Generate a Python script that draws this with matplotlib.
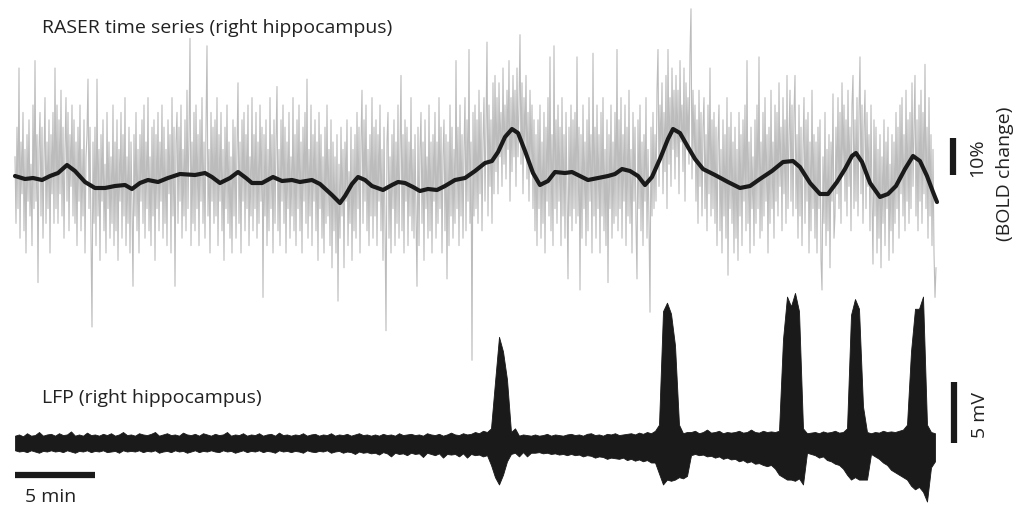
import matplotlib
matplotlib.use("Agg")
import matplotlib.pyplot as plt
import numpy as np

plt.rcParams['font.family'] = ['Open Sans', 'DejaVu Sans']

# raw RASER trace (% BOLD change), one sample every 0.0625 min
raser_step = 0.0625
raser_raw = [
    6, -12, 14, -8, 30, -16, 10, -4, 18, -14, 8, -20, 12, -6, 16, -10, 4, -18, 20, -8,
    32, -6, 12, -28, 8, 18, -10, 14, -16, 6, 22, -12, 10, -8, 16, -20, 12, -4, 18, -12,
    30, -8, 20, -12, 16, -4, 24, -10, 14, -16, 8, 22, -6, 18, -14, 12, -2, 20, -10, 16,
    -12, 10, -18, 14, -6, 20, -14, 8, -10, 16, -20, 6, 12, 27, -8, 14, -16, -40, 10, -12,
    14, -18, 27, -10, 8, -22, 12, -6, 16, -14, 4, -20, 18, -8, 10, -16, 6, -12, 20, -18,
    10, -14, 16, -22, 8, -6, 18, -16, 12, -10, 22, -18, 6, -12, 14, -20, 10, -8, -29, 12,
    -10, 18, -14, 8, -20, 12, -6, 16, -12, 20, -16, 10, -8, 22, -14, 6, -18, 14, -10, 16,
    -22, 12, -8, 18, -14, 10, -6, 20, -16, 14, -12, 8, -18, 16, -4, 12, -20, 22, -10, 14,
    -29, 10, 18, -12, 14, -6, 20, -16, 8, -10, 16, -14, 24, -8, 12, 38, -18, 10, -12, 18,
    -14, 20, -8, 12, -18, 16, -6, 22, -12, 10, -16, 14, 36, -10, 8, -20, 18, -6, 14, -12,
    16, -10, 22, -18, 12, -6, 18, -14, 8, -22, 14, -8, 20, -12, 10, -16, 6, -20, 16, -10,
    14, -16, 8, 26, -12, 10, -20, 16, -6, 18, -14, 12, -8, 20, -18, 6, -10, 22, -14, 12,
    -8, 18, -16, 10, -12, 20, -6, 14, -32, 12, -10, 16, -18, 8, -14, 22, -8, 12, -20, 16,
    -12, 10, 25, -14, 8, -18, 16, -6, 20, -12, 14, -20, 10, -8, 18, -16, 6, -10, 22, -14,
    12, -18, 16, -8, 20, -14, 10, -20, 14, -6, 18, -12, 27, -16, 8, -10, 20, -18, 12, -6,
    16, -14, 10, -22, 18, -8, 12, -16, 6, -20, 14, -12, 20, -10, 8, -18, 16, -24, 10, -14,
    6, -20, 12, -33, 4, -16, 14, -10, 8, -24, 10, -6, 16, -18, 2, -12, 14, -22, 8, -14,
    12, -16, 18, -8, 14, -20, 10, 24, -12, 16, -6, 20, -14, 8, -18, 12, -10, 22, -16, 14,
    -10, 16, -18, 12, -6, 20, -14, 8, -22, 14, -12, -41, 10, 18, -16, 6, -20, 12, -8, 16,
    -18, 10, -12, 20, -16, 8, 28, -14, 12, -20, 16, -6, 14, -18, 10, -10, 22, -14, 8, -16,
    12, -10, -29, 14, -18, 8, 18, -12, 10, -22, 16, -8, 6, -16, 20, -14, 10, -20, 12, -6,
    18, -16, 10, -12, 22, -8, 14, -20, 6, 16, -14, 12, -27, 10, -18, 20, -10, 14, -16, 8,
    -12, 32, -8, 14, -18, 20, -10, 12, -16, 8, 22, -14, 16, -6, 35, -12, 10, -49, 18, -10,
    20, -8, 16, -12, 24, -4, 18, -14, 10, 22, -6, 14, 37, -10, 20, -2, 16, -12, 26, -4,
    28, 2, 22, -4, 26, 6, 18, -2, 30, 4, 20, 0, 24, 8, 32, -6, 22, 2, 28, 6,
    24, -2, 30, 6, 20, 39, 4, 26, -4, 22, 8, 28, 0, 18, -6, 24, 2, 20, -8, 16,
    -14, 12, -18, 16, -8, 20, -16, 10, -12, 18, -20, 14, -6, 22, -10, 33, -14, 12, -18, 36,
    -8, 16, -12, 20, -6, 14, -18, 22, -10, 12, -16, 18, -4, -27, 14, -10, 20, -14, 16, -8,
    18, -12, 33, -10, 14, -30, 12, -16, 20, -8, 10, -18, 16, -14, 22, -6, 12, -20, 34, -10,
    14, -16, 20, -8, 12, -20, 18, -10, 22, -14, 8, -18, 16, -28, 12, -8, 20, -16, 10, -12,
    18, -10, 35, -14, 16, -8, 22, -16, 12, -6, 20, -18, 14, -10, 24, -12, 8, -20, 18, -6,
    14, -12, -27, 16, -8, 20, -14, 10, -18, 12, -6, 22, -16, 8, -12, -36, 14, -10, 18, -8,
    12, -6, 24, 35, -2, 20, 6, 26, -4, 18, 2, 28, -8, 35, 4, 22, -2, 30, 8, 24,
    0, 28, 6, 24, -4, 32, 10, 20, 2, 30, -6, 26, 8, 22, 4, 34, 46, 0, 24, 6,
    20, -6, 16, -12, 24, -2, 18, -10, 14, 22, -8, 12, -14, 20, -4, 30, -10, 16, -8, 18,
    -12, 14, -18, 10, 20, -14, 8, -20, 16, -10, 12, -16, 22, -26, 14, -8, 18, -12, 10, -20,
    14, -16, 8, -22, 18, -10, 12, -18, 16, -6, 20, -14, 32, -12, 10, -20, 14, -8, 6, -18,
    16, -12, 20, -8, 33, -16, 10, -14, 18, -10, 22, -6, 12, -20, 14, -12, 24, -8, 10, -16,
    20, -6, 18, -10, 26, -2, 14, -14, 22, -4, 16, -12, 28, -8, 12, 24, -6, 20, -10, 18,
    28, -8, 12, -16, 20, -10, 14, -18, 8, 22, -12, 16, -6, 18, -20, 10, -14, 24, -8, 12,
    -16, 10, -20, 14, -8, 16, -22, -30, 6, -12, 18, -18, 8, -14, 12, -24, 10, -6, 23, -16,
    -10, 14, -4, 22, -8, 18, -12, 26, 2, 20, -6, 16, -10, 24, -2, 14, -14, 20, 28, -8,
    16, -6, 22, -10, 18, 33, -4, 20, -12, 14, 24, -8, 18, -2, 12, -14, 20, -6, -23, 16,
    -10, 14, -20, 8, -16, 12, -24, 6, -12, 16, -18, 10, -8, 14, -22, 4, -14, 12, -20, 10,
    -12, 18, -8, 14, -16, 20, -4, 22, -10, 12, -14, 24, -6, 16, -12, 18, -8, 26, -2, 14,
    28, -10, 16, -14, 20, -6, 24, -12, 18, -4, 31, -8, 14, -16, 22, -10, 12, -18, 8, -20,
    -32, -24,
]

# smoothed RASER curve: time (min) and % BOLD change
smooth_t = [
    0, 0.625, 1.125, 1.69, 2.19, 2.69, 3.25, 3.75, 4.375, 5.0,
    5.625, 6.25, 6.875, 7.31, 7.81, 8.31, 8.94, 9.56, 10.31, 11.25,
    11.875, 12.31, 12.81, 13.44, 13.94, 14.44, 14.81, 15.44, 16.125, 16.69,
    17.31, 17.81, 18.56, 19.06, 19.81, 20.31, 20.625, 21.06, 21.44, 21.875,
    22.31, 23.0, 23.56, 23.94, 24.375, 24.875, 25.31, 25.81, 26.375, 26.875,
    27.5, 28.125, 28.75, 29.375, 29.81, 30.19, 30.625, 31.06, 31.44, 31.875,
    32.375, 32.81, 33.31, 33.75, 34.375, 34.81, 35.31, 35.81, 36.44, 37.06,
    37.5, 37.94, 38.44, 38.94, 39.375, 39.81, 40.31, 40.81, 41.125, 41.56,
    42.06, 42.5, 43.0, 43.75, 44.56, 45.31, 45.94, 46.56, 47.31, 48.0,
    48.625, 49.06, 49.69, 50.31, 50.81, 51.375, 51.875, 52.31, 52.56, 52.94,
    53.44, 54.06, 54.56, 55.06, 55.625, 56.125, 56.56, 57.0, 57.375, 57.625,
]
smooth_v = [
    0.81, 0, 0.27, -0.27, 0.81, 1.62, 3.78, 2.16, -0.81, -2.43,
    -2.43, -1.89, -1.62, -2.70, -1.08, -0.27, -0.81, 0.27, 1.35, 1.08,
    1.62, 0.54, -1.08, 0.27, 1.89, 0.27, -1.08, -1.08, 0.54, -0.54,
    -0.27, -0.81, -0.27, -1.35, -4.32, -6.49, -4.59, -1.35, 0.54, -0.27,
    -1.89, -2.97, -1.62, -0.81, -1.08, -2.16, -3.24, -2.70, -2.97, -1.89,
    -0.27, 0.27, 2.16, 4.32, 4.86, 7.30, 11.35, 13.51, 12.43, 7.57,
    1.62, -1.62, -0.54, 1.89, 1.62, 1.89, 0.81, -0.27, 0.27, 0.81,
    1.35, 2.70, 2.16, 0.81, -1.62, 0.54, 5.41, 10.81, 13.51, 12.43,
    8.65, 5.41, 2.70, 1.08, -0.81, -2.43, -1.89, 0, 2.16, 4.59,
    4.86, 3.24, -1.08, -4.05, -4.05, -0.81, 2.70, 6.22, 7.03, 4.59,
    -1.08, -4.86, -4.05, -1.89, 2.70, 6.22, 4.86, 0.81, -3.51, -6.22,
]

# LFP envelope (mV), upper and lower extent, one sample every 0.25 min
lfp_step = 0.25
lfp_hi = [
    0.6, 0.7, 0.55, 0.8, 0.6, 0.65, 0.9, 0.6, 0.7, 0.75,
    0.6, 0.8, 0.65, 0.7, 0.95, 0.6, 0.7, 0.6, 0.85, 0.65,
    0.7, 0.6, 0.75, 0.65, 0.8, 0.6, 0.7, 0.9, 0.65, 0.7,
    0.6, 0.8, 0.7, 0.65, 0.75, 0.9, 0.6, 0.7, 0.8, 0.65,
    0.7, 0.6, 0.85, 0.7, 0.65, 0.75, 0.6, 0.8, 0.7, 0.6,
    0.75, 0.65, 0.7, 0.9, 0.6, 0.7, 0.65, 0.8, 0.6, 0.7,
    0.65, 0.8, 0.6, 0.7, 0.75, 0.6, 0.85, 0.65, 0.7, 0.6,
    0.7, 0.65, 0.8, 0.6, 0.7, 0.75, 0.6, 0.7, 0.65, 0.8,
    0.6, 0.7, 0.65, 0.75, 0.6, 0.7, 0.8, 0.65, 0.7, 0.6,
    0.7, 0.6, 0.75, 0.65, 0.7, 0.6, 0.8, 0.65, 0.7, 0.75,
    0.65, 0.7, 0.6, 0.8, 0.7, 0.65, 0.75, 0.6, 0.7, 0.85,
    0.7, 0.65, 0.8, 0.7, 0.75, 0.9, 0.8, 1.0, 0.9, 1.2,
    5.0, 8.7, 7.5, 5.2, 0.9, 1.2, 0.6, 0.7, 0.65, 0.6,
    0.7, 0.6, 0.65, 0.75, 0.6, 0.7, 0.65, 0.6, 0.7, 0.75,
    0.65, 0.7, 0.6, 0.75, 0.8, 0.65, 0.7, 0.6, 0.75, 0.7,
    0.8, 0.65, 0.7, 0.75, 0.8, 0.7, 0.85, 0.75, 0.9, 0.8,
    1.0, 1.5, 10.8, 11.5, 10.6, 8.0, 1.5, 0.8, 0.9, 0.9,
    1.0, 0.8, 0.9, 1.1, 0.85, 0.9, 1.0, 0.8, 0.9, 0.85,
    0.9, 1.0, 0.85, 0.9, 1.1, 0.9, 0.85, 1.0, 0.9, 0.95,
    0.9, 1.0, 8.5, 12.0, 11.2, 12.3, 10.8, 1.2, 0.8, 0.85,
    0.9, 0.8, 0.95, 0.85, 0.9, 1.0, 0.85, 0.9, 1.2, 10.5,
    11.8, 11.0, 3.0, 0.9, 0.8, 0.9, 0.85, 1.0, 0.9, 0.95,
    0.9, 1.0, 1.1, 1.5, 7.5, 11.0, 11.0, 12.0, 1.5, 0.9,
    0.8,
]
lfp_lo = [
    -0.6, -0.7, -0.65, -0.75, -0.6, -0.7, -0.8, -0.65, -0.7, -0.6,
    -0.7, -0.65, -0.75, -0.6, -0.7, -0.8, -0.65, -0.7, -0.6, -0.75,
    -0.65, -0.7, -0.6, -0.75, -0.7, -0.65, -0.8, -0.6, -0.7, -0.65,
    -0.7, -0.6, -0.75, -0.65, -0.7, -0.6, -0.8, -0.7, -0.65, -0.75,
    -0.6, -0.7, -0.65, -0.8, -0.7, -0.6, -0.75, -0.65, -0.7, -0.6,
    -0.7, -0.75, -0.6, -0.7, -0.65, -0.8, -0.7, -0.6, -0.75, -0.65,
    -0.7, -0.6, -0.75, -0.65, -0.7, -0.8, -0.6, -0.7, -0.65, -0.75,
    -0.65, -0.7, -0.8, -0.6, -0.7, -0.75, -0.65, -0.7, -0.6, -0.8,
    -0.7, -0.65, -0.8, -0.7, -0.75, -0.9, -0.7, -0.8, -0.75, -0.85,
    -0.8, -0.95, -0.75, -0.85, -1.1, -0.8, -0.9, -0.85, -1.0, -0.8,
    -0.9, -0.85, -1.15, -0.8, -0.9, -1.0, -0.85, -1.2, -0.9, -0.95,
    -0.9, -1.1, -0.85, -1.2, -0.9, -1.0, -0.95, -1.1, -1.0, -1.8,
    -2.8, -3.4, -2.6, -1.5, -0.9, -0.8, -1.1, -0.75, -1.1, -0.8,
    -0.8, -0.75, -0.85, -0.8, -0.9, -0.85, -0.95, -0.9, -1.0, -0.9,
    -1.0, -0.95, -1.1, -1.0, -1.05, -1.2, -1.1, -1.15, -1.3, -1.2,
    -1.25, -1.3, -1.2, -1.4, -1.3, -1.45, -1.35, -1.5, -1.4, -1.6,
    -1.6, -2.5, -3.4, -3.0, -3.1, -3.0, -2.8, -2.9, -2.7, -1.0,
    -0.9, -1.0, -0.95, -1.1, -1.05, -1.2, -1.1, -1.3, -1.2, -1.35,
    -1.3, -1.5, -1.4, -1.6, -1.5, -1.7, -1.65, -1.8, -1.9, -1.8,
    -2.1, -2.6, -2.8, -3.0, -3.0, -3.1, -2.9, -3.4, -0.8, -0.9,
    -1.0, -1.2, -1.1, -1.4, -1.5, -1.7, -1.8, -2.1, -2.6, -3.0,
    -2.8, -3.0, -3.0, -3.0, -0.9, -1.1, -1.3, -1.6, -1.8, -2.2,
    -2.4, -2.6, -2.8, -3.0, -3.5, -3.8, -3.6, -4.0, -4.8, -2.0,
    -1.5,
]

raser_t = np.arange(len(raser_raw)) * raser_step
lfp_t = np.arange(len(lfp_hi)) * lfp_step

fig = plt.figure(figsize=(10.2, 5.1), dpi=100)
xlim = (-0.9375, 62.8125)

# top panel: RASER
ax1 = fig.add_axes([0, 140 / 510, 1, 370 / 510])
ax1.plot(raser_t, raser_raw, color='#bcbcbc', lw=0.8)
ax1.plot(smooth_t, smooth_v, color='#1a1a1a', lw=3, solid_capstyle='round')
ax1.plot([58.6, 58.6], [1.1, 11.1], color='#1a1a1a', lw=4.5, solid_capstyle='butt')
ax1.set_xlim(*xlim)
ax1.set_ylim(-51.35, 48.65)
ax1.axis('off')

# bottom panel: LFP
ax2 = fig.add_axes([0, 0, 1, 230 / 510])
ax2.patch.set_alpha(0)
ax2.fill_between(lfp_t, lfp_lo, lfp_hi, color='#1a1a1a', lw=0.6)
ax2.plot([58.7, 58.7], [0, 5], color='#1a1a1a', lw=4.5, solid_capstyle='butt')
ax2.plot([0, 5], [-2.62, -2.62], color='#1a1a1a', lw=4.5, solid_capstyle='butt')
ax2.set_xlim(*xlim)
ax2.set_ylim(-5.41, 13.44)
ax2.axis('off')

fs = 14
fig.text(42 / 1020, 1 - 28 / 510, 'RASER time series (right hippocampus)',
         fontsize=fs, color='#222222', ha='left', va='center')
fig.text(42 / 1020, 1 - 398 / 510, 'LFP (right hippocampus)',
         fontsize=fs, color='#222222', ha='left', va='center')
fig.text(25 / 1020, 1 - 497 / 510, '5 min',
         fontsize=fs, color='#222222', ha='left', va='center')
fig.text(977 / 1020, 1 - 158 / 510, '10%', rotation=90,
         fontsize=fs, color='#222222', ha='center', va='center')
fig.text(1005 / 1020, 1 - 174 / 510, '(BOLD change)', rotation=90,
         fontsize=fs, color='#222222', ha='center', va='center')
fig.text(980 / 1020, 1 - 415 / 510, '5 mV', rotation=90,
         fontsize=fs, color='#222222', ha='center', va='center')

fig.savefig('out.png', dpi=100)
